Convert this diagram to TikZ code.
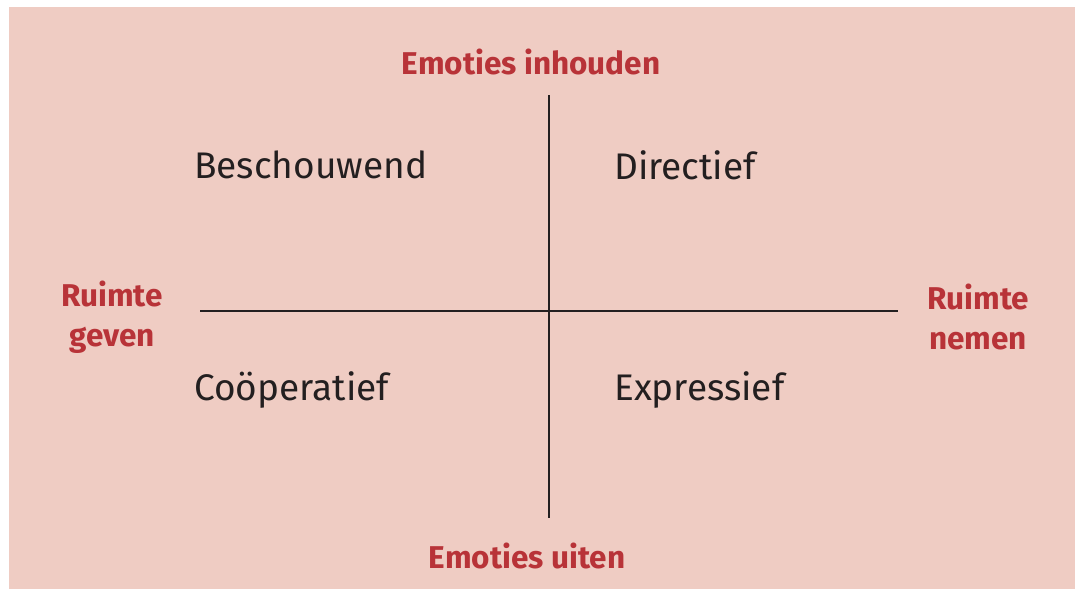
\documentclass[tikz,border=0pt]{standalone}
\usepackage{fontspec}
\setmainfont{Fira Sans}
\definecolor{bgpink}{HTML}{EFCCC3}
\definecolor{axisred}{HTML}{B83338}
\definecolor{ink}{HTML}{231F20}
\begin{document}
\begin{tikzpicture}[x=1pt,y=-1pt,
  axislabel/.style={text=axisred,font=\fontsize{31.5}{40}\selectfont\bfseries,align=center,inner sep=0pt},
  quadlabel/.style={text=ink,font=\fontsize{37}{44}\selectfont,anchor=west,inner sep=0pt},
  axisline/.style={draw=ink,line width=2pt}]
\useasboundingbox (0,0) rectangle (1075,589);
\fill[white] (0,0) rectangle (1075,589);
\fill[bgpink] (9,7) rectangle (1075,589);
\coordinate (vt) at (549,95);
\coordinate (vb) at (549,518);
\coordinate (hl) at (200,311);
\coordinate (hr) at (898,311);
\draw[axisline] (vt) -- (vb);
\draw[axisline] (hl) -- (hr);
\node[axislabel] (top) at (531,62) {Emoties inhouden};
\node[axislabel] (bottom) at (527,556) {Emoties uiten};
\node[axislabel] (left) at (112,317) {Ruimte\\geven};
\node[axislabel] (right) at (978,317) {Ruimte\\nemen};
\node[quadlabel] (q1) at (194,165) {Beschouwend};
\node[quadlabel] (q2) at (614,165) {Directief};
\node[quadlabel] (q3) at (194,390) {Coöperatief};
\node[quadlabel] (q4) at (614,390) {Expressief};
\end{tikzpicture}
\end{document}
